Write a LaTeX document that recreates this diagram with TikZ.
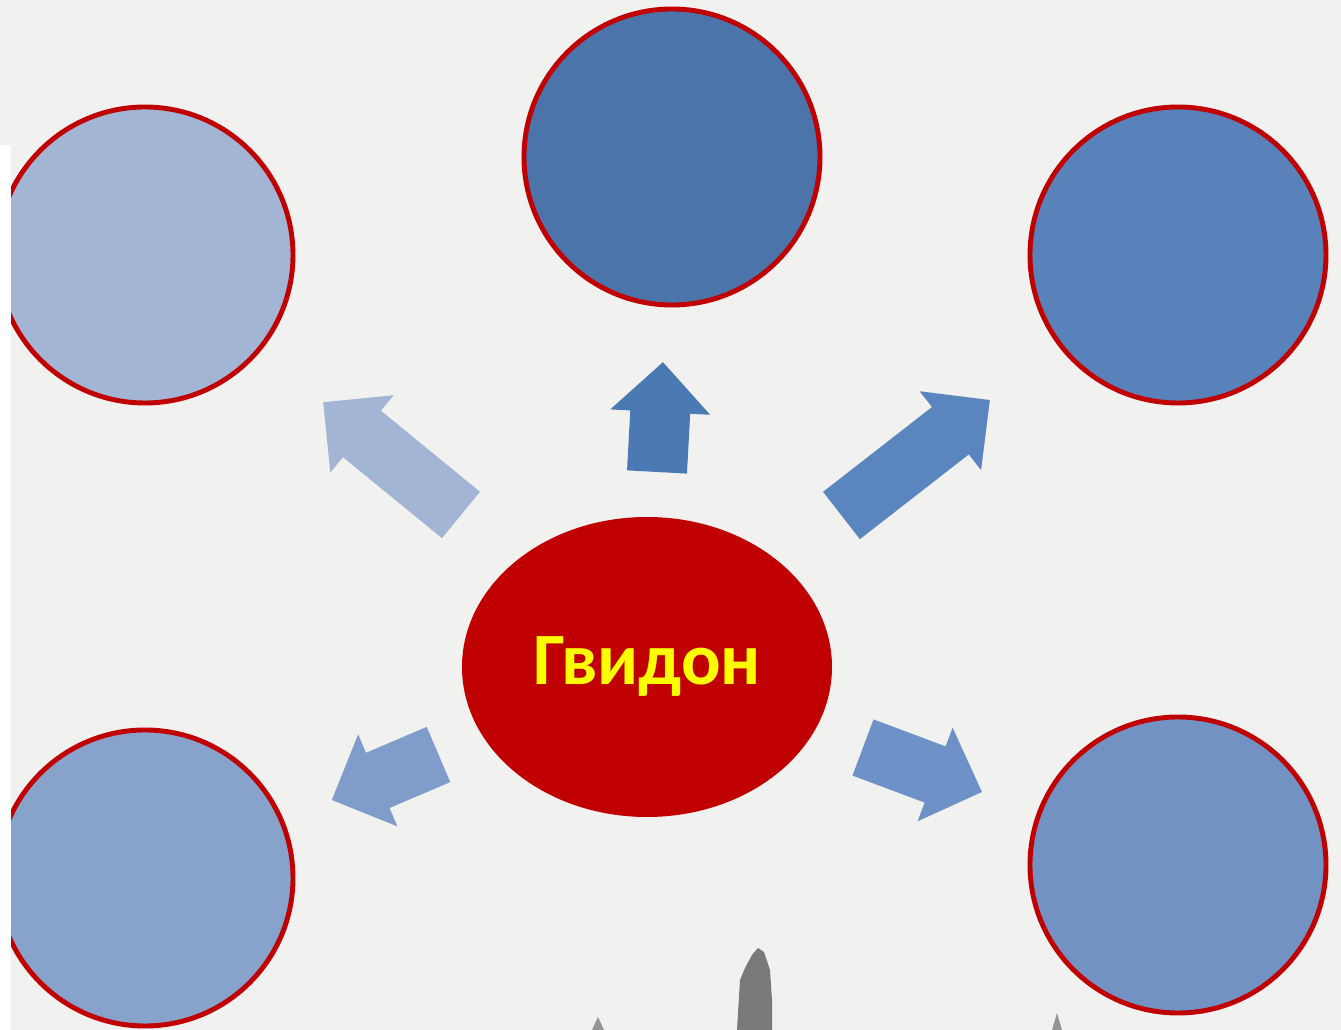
\documentclass[tikz,border=0pt]{standalone}
\usepackage{fontspec}
\newfontfamily\namefont{Carlito}
\usepackage{tikz}
\usetikzlibrary{positioning, shapes.geometric}
\definecolor{paper}{HTML}{F1F1EF}
\definecolor{spire}{HTML}{7A7A7A}
\definecolor{rimred}{HTML}{C00000}
\definecolor{namegold}{HTML}{FFFF00}
\definecolor{paleblue}{HTML}{A3B5D5}
\definecolor{deepblue}{HTML}{4A74AA}
\definecolor{midblue}{HTML}{5981BA}
\definecolor{softblue}{HTML}{88A3CB}
\definecolor{lightblue}{HTML}{7292C3}
\definecolor{arrowtop}{HTML}{4B79B4}
\definecolor{arrowright}{HTML}{5B85BE}
\definecolor{arrowlow}{HTML}{7F9CCB}
\definecolor{arrowlowr}{HTML}{6E92C8}
\tikzset{>=stealth}
\tikzset{bubble/.style={circle, draw=rimred, line width=1.4pt, minimum size=2.96cm, inner sep=0pt},
         hero/.style={ellipse, fill=rimred, minimum width=3.7cm, minimum height=3cm, inner sep=0pt,
                      text=namegold, font=\namefont\bfseries\fontsize{21}{25}\selectfont}}

\begin{document}
\begin{tikzpicture}
    \useasboundingbox (0,0) rectangle (13.41,10.30);
    \fill[paper] (0,0) rectangle (13.41,10.30);
    
    % spires in the background
    \fill[spire] (7.37,0) -- (7.40,0.50) -- (7.45,0.62) -- (7.52,0.75) -- (7.58,0.82) -- (7.64,0.78)
        -- (7.70,0.60) -- (7.72,0.30) -- (7.72,0) -- cycle;
    \fill[spire!80] (5.92,0) -- (5.98,0.13) -- (6.04,0) -- cycle;
    \fill[spire!80] (10.52,0) -- (10.57,0.17) -- (10.62,0) -- cycle;
    
    \node[bubble, fill=paleblue] (tl) at (1.45,7.75) {};
    \node[bubble, fill=deepblue] (top) at (6.72,8.73) {};
    \node[bubble, fill=midblue] (tr) at (11.78,7.75) {};
    \node[bubble, fill=softblue] (bl) at (1.45,1.52) {};
    \node[bubble, fill=lightblue] (br) at (11.78,1.65) {};
    
    \node[hero] (gvidon) at (6.47,3.63) {Гвидон};
    
    \foreach \x/\y/\ang/\len/\col in {4.61/5.15/140.7/1.78/paleblue, 6.57/5.58/86.9/1.10/arrowtop,
        8.415/5.145/37.9/1.88/arrowright, 4.385/2.755/203.1/1.16/arrowlow, 8.63/2.825/-20.5/1.27/arrowlowr}
    {\fill[\col, shift={(\x,\y)}, rotate=\ang] (0,-.3) -- (\len-.5,-.3) -- (\len-.5,-.5) -- (\len,0)
        -- (\len-.5,.5) -- (\len-.5,.3) -- (0,.3) -- cycle; }
    
    \fill[white] (0,0) rectangle (0.11,8.85);
\end{tikzpicture}
\end{document}
